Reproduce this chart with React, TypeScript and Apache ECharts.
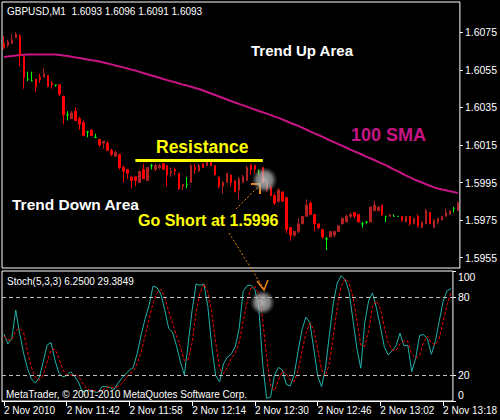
import React, { useEffect, useRef } from "react";
import * as echarts from "echarts";

// ---------- DATA ----------
const OPEN = [
  1.6069,1.6068,1.6069,1.6072,1.6073,1.6062,1.6050,1.6049,1.6050,1.6051,
  1.6051,1.6052,1.6048,1.6047,1.6047,1.6041,1.6031,1.6029,1.6033,1.6029,
  1.6027,1.6022,1.6023,1.6019,1.6018,1.6016,1.6016,1.6012,1.6009,1.6010,
  1.6003,1.6002,1.5998,1.5998,1.5995,1.6002,1.5996,1.6004,1.6002,1.6003,
  1.6005,1.6004,1.6000,1.6002,1.6000,1.5993,1.5994,1.5995,1.6003,1.6001,
  1.6005,1.6004,1.6006,1.6004,1.5998,1.5993,1.5995,1.5999,1.5996,1.5991,
  1.5995,1.5996,1.6004,1.6004,1.6001,1.6003,1.5991,1.5993,1.5988,1.5985,
  1.5990,1.5987,1.5971,1.5967,1.5969,1.5973,1.5977,1.5984,1.5978,1.5973,
  1.5970,1.5965,1.5966,1.5967,1.5969,1.5973,1.5974,1.5977,1.5979,1.5978,
  1.5973,1.5974,1.5974,1.5980,1.5980,1.5983,1.5977,1.5977,1.5977,1.5977,
  1.5977,1.5974,1.5977,1.5973,1.5977,1.5971,1.5973,1.5979,1.5971,1.5974,
  1.5975,1.5977,1.5978,1.5981,1.5980,
];
const HIGH = [
  1.6073,1.6071,1.6074,1.6075,1.6074,1.6062,1.6054,1.6054,1.6050,1.6053,
  1.6056,1.6052,1.6049,1.6047,1.6047,1.6041,1.6033,1.6033,1.6035,1.6030,
  1.6028,1.6022,1.6023,1.6021,1.6018,1.6017,1.6017,1.6013,1.6012,1.6010,
  1.6004,1.6002,1.5998,1.5998,1.6001,1.6005,1.6003,1.6005,1.6005,1.6005,
  1.6005,1.6004,1.6003,1.6003,1.6000,1.5994,1.5998,1.6005,1.6005,1.6005,
  1.6005,1.6007,1.6007,1.6004,1.5998,1.5996,1.6000,1.5999,1.5996,1.5998,
  1.5999,1.6004,1.6005,1.6004,1.6002,1.6003,1.5995,1.5993,1.5989,1.5992,
  1.5990,1.5987,1.5971,1.5969,1.5976,1.5977,1.5986,1.5985,1.5978,1.5973,
  1.5970,1.5966,1.5969,1.5969,1.5972,1.5976,1.5978,1.5979,1.5979,1.5978,
  1.5974,1.5974,1.5982,1.5985,1.5982,1.5983,1.5977,1.5978,1.5978,1.5977,
  1.5977,1.5977,1.5977,1.5976,1.5978,1.5974,1.5981,1.5979,1.5975,1.5976,
  1.5977,1.5981,1.5980,1.5982,1.5985,
];
const LOW = [
  1.6066,1.6067,1.6069,1.6072,1.6057,1.6045,1.6049,1.6049,1.6043,1.6048,
  1.6051,1.6046,1.6045,1.6046,1.6041,1.6026,1.6028,1.6029,1.6028,1.6023,
  1.6020,1.6019,1.6020,1.6019,1.6014,1.6013,1.6012,1.6009,1.6009,1.6002,
  1.5995,1.5997,1.5992,1.5993,1.5995,1.5997,1.5996,1.6002,1.6001,1.6002,
  1.6002,1.5993,1.5998,1.5999,1.5991,1.5991,1.5992,1.5995,1.6000,1.6001,
  1.6003,1.6004,1.6004,1.5999,1.5992,1.5989,1.5995,1.5993,1.5990,1.5986,
  1.5995,1.5996,1.5999,1.6000,1.5999,1.5995,1.5990,1.5988,1.5983,1.5984,
  1.5985,1.5968,1.5964,1.5966,1.5968,1.5973,1.5977,1.5978,1.5969,1.5970,
  1.5965,1.5959,1.5966,1.5966,1.5969,1.5973,1.5974,1.5976,1.5976,1.5974,
  1.5971,1.5973,1.5974,1.5980,1.5980,1.5977,1.5974,1.5977,1.5977,1.5977,
  1.5974,1.5974,1.5972,1.5973,1.5971,1.5971,1.5973,1.5973,1.5971,1.5973,
  1.5975,1.5977,1.5978,1.5979,1.5980,
];
const CLOSE = [
  1.6067,1.6070,1.6071,1.6074,1.6063,1.6051,1.6050,1.6049,1.6046,1.6050,
  1.6053,1.6046,1.6047,1.6047,1.6042,1.6031,1.6031,1.6032,1.6028,1.6026,
  1.6020,1.6022,1.6020,1.6019,1.6015,1.6017,1.6012,1.6010,1.6011,1.6003,
  1.6001,1.6000,1.5996,1.5996,1.6001,1.5997,1.6003,1.6004,1.6004,1.6004,
  1.6002,1.5999,1.6001,1.6001,1.5992,1.5994,1.5994,1.6004,1.6002,1.6004,
  1.6003,1.6006,1.6004,1.5999,1.5993,1.5995,1.6000,1.5995,1.5990,1.5997,
  1.5998,1.6003,1.6002,1.6002,1.6001,1.5995,1.5995,1.5988,1.5984,1.5991,
  1.5985,1.5970,1.5967,1.5969,1.5973,1.5977,1.5983,1.5978,1.5973,1.5971,
  1.5966,1.5965,1.5969,1.5969,1.5972,1.5976,1.5977,1.5978,1.5977,1.5974,
  1.5973,1.5974,1.5982,1.5983,1.5982,1.5978,1.5977,1.5978,1.5977,1.5977,
  1.5975,1.5977,1.5973,1.5976,1.5972,1.5974,1.5980,1.5973,1.5975,1.5976,
  1.5977,1.5979,1.5980,1.5981,1.5984,
];
const SMA100 = [
  1.60618,1.60621,1.60624,1.60626,1.60629,1.60630,1.60631,1.60631,1.60632,1.60632,
  1.60632,1.60632,1.60632,1.60632,1.60629,1.60626,1.60624,1.60620,1.60616,1.60613,
  1.60609,1.60605,1.60601,1.60598,1.60594,1.60589,1.60584,1.60579,1.60573,1.60568,
  1.60563,1.60557,1.60551,1.60546,1.60539,1.60533,1.60526,1.60520,1.60514,1.60508,
  1.60501,1.60495,1.60489,1.60484,1.60477,1.60471,1.60466,1.60460,1.60453,1.60448,
  1.60440,1.60432,1.60424,1.60416,1.60408,1.60400,1.60392,1.60384,1.60376,1.60369,
  1.60361,1.60354,1.60346,1.60339,1.60331,1.60324,1.60317,1.60309,1.60301,1.60294,
  1.60285,1.60276,1.60267,1.60259,1.60250,1.60241,1.60231,1.60221,1.60212,1.60203,
  1.60193,1.60183,1.60173,1.60164,1.60154,1.60145,1.60135,1.60125,1.60116,1.60107,
  1.60098,1.60088,1.60079,1.60070,1.60060,1.60051,1.60041,1.60030,1.60019,1.60009,
  1.59998,1.59987,1.59977,1.59967,1.59958,1.59950,1.59941,1.59933,1.59924,1.59918,
  1.59913,1.59909,1.59903,1.59899,1.59894,
];
const STOCH_MAIN = [
  51.6,44,48,70,52,36.7,24.9,17,13.8,18,
  29.8,43,45,31.6,21.3,18.7,19.5,22.6,19.2,14.4,
  7,8,8.4,7,6.6,11,11,10.5,8.6,13.3,
  17.4,20.7,23.8,25.9,36.7,50.9,63.3,73.3,88.2,87.4,
  82.2,70.1,56,52.8,42.5,30.2,20,44.5,70.1,90,
  89,90,72.7,41.9,19.5,14.8,28.7,33.9,36.2,41.9,
  56,84.3,88.7,89.2,85.6,71.5,27.7,2,3,20,
  25.9,23.9,12.8,11.5,20,38,54.7,64.5,60.6,40.6,
  19.5,11,25.2,50.9,75.4,90.8,96.4,93.3,84.3,62.5,
  40.6,25.2,59.9,77.1,83.1,71.5,57.3,41.9,35.4,38.6,
  42.5,52.2,42.5,42.8,22.5,32.9,50.4,51.1,47.8,35.9,
  45.7,61.2,76.6,84.8,86.4,
];
const STOCH_SIGNAL = [
  50,47,47,54,56,53,38,26,18,16,
  20,30,39,40,33,24,20,20,20,19,
  14,10,8,8,7,8,10,11,10,11,
  13,17,21,23,29,38,50,63,75,83,
  86,80,69,60,50,42,31,32,45,68,
  83,90,84,68,45,25,21,26,33,37,
  45,61,76,87,88,82,62,34,11,8,
  16,23,21,16,15,23,38,52,60,55,
  40,24,19,29,50,72,88,94,91,80,
  62,43,42,54,73,77,71,57,45,39,
  39,44,46,46,36,33,35,45,50,45,
  43,48,61,74,83,
];
const PRICE_TICKS = [1.5955, 1.5975, 1.5995, 1.6015, 1.6035, 1.6055, 1.6075];
const STOCH_TICKS = [0, 20, 80, 100];
const STOCH_LEVELS = [20, 80];
const TIME_LABELS = [
  "2 Nov 2010", "2 Nov 11:42", "2 Nov 11:58", "2 Nov 12:14",
  "2 Nov 12:30", "2 Nov 12:46", "2 Nov 13:02", "2 Nov 13:18",
];
const LABEL_EVERY = 16;
const START_MINUTE = 11 * 60 + 26;
const PRICE_MIN = 1.59495;
const PRICE_MAX = 1.60911;
const RESISTANCE_PRICE = 1.6007;
const RESISTANCE_FROM = 33;
const RESISTANCE_TO = 65;

const TIMES = OPEN.map((_, i) => {
  const m = START_MINUTE + i;
  const hh = Math.floor(m / 60);
  const mm = m % 60;
  return `${hh}:${mm < 10 ? "0" + mm : mm}`;
});
const CANDLES = OPEN.map((o, i) => [o, CLOSE[i], LOW[i], HIGH[i]]);

const FONT = '"Liberation Sans", Arial, sans-serif';

export default function App() {
  const ref = useRef<HTMLDivElement>(null);
  useEffect(() => {
    document.body.style.margin = "0";
    if (!ref.current) return;
    const chart = echarts.init(ref.current, null, { renderer: "svg" });
    const glow = () =>
      new echarts.graphic.RadialGradient(0.5, 0.5, 0.5, [
        { offset: 0, color: "rgba(205,205,205,0.85)" },
        { offset: 0.6, color: "rgba(175,175,175,0.7)" },
        { offset: 1, color: "rgba(120,120,120,0)" },
      ]);
    const orange = "#F08010";
    const txt = (text: string, x: number, y: number, size: number, color: string, bold = false) => ({
      type: "text",
      x,
      y,
      z: 100,
      style: {
        text,
        fill: color,
        fontSize: size,
        fontFamily: FONT,
        fontWeight: bold ? "bold" : "normal",
        align: "left",
        verticalAlign: "middle",
      },
    });
    chart.setOption({
      animation: false,
      backgroundColor: "#000000",
      grid: [
        { left: 2, top: 2, width: 459, height: 266, show: true, borderColor: "#ffffff", borderWidth: 1, backgroundColor: "transparent" },
        { left: 2, top: 271, width: 459, height: 130, show: true, borderColor: "#ffffff", borderWidth: 1, backgroundColor: "transparent" },
      ],
      xAxis: [
        { type: "category", gridIndex: 0, data: TIMES, show: false },
        {
          type: "category",
          gridIndex: 1,
          data: TIMES,
          axisLine: { show: true, lineStyle: { color: "#ffffff" } },
          axisTick: { show: true, interval: LABEL_EVERY - 1, alignWithLabel: true, length: 5, lineStyle: { color: "#ffffff" } },
          axisLabel: {
            interval: LABEL_EVERY - 1,
            align: "left",
            color: "#ffffff",
            fontSize: 10,
            fontFamily: FONT,
            margin: 4,
            formatter: (_v: string, idx: number) =>
              idx % LABEL_EVERY === 0 ? TIME_LABELS[idx / LABEL_EVERY] || "" : "",
          },
          splitLine: { show: false },
        },
      ],
      yAxis: [
        {
          type: "value",
          gridIndex: 0,
          position: "right",
          min: PRICE_MIN,
          max: PRICE_MAX,
          splitLine: { show: false },
          axisLine: { show: false },
          axisTick: { show: true, customValues: PRICE_TICKS, length: 3, lineStyle: { color: "#ffffff" } },
          axisLabel: {
            customValues: PRICE_TICKS,
            color: "#ffffff",
            fontSize: 10.5,
            fontFamily: FONT,
            margin: 5,
            formatter: (v: number) => v.toFixed(4),
          },
        },
        {
          type: "value",
          gridIndex: 1,
          position: "right",
          min: 0,
          max: 100,
          splitLine: { show: false },
          axisLine: { show: false },
          axisTick: { show: true, customValues: STOCH_TICKS, length: 3, lineStyle: { color: "#ffffff" } },
          axisLabel: {
            customValues: STOCH_TICKS,
            color: "#ffffff",
            fontSize: 10.5,
            fontFamily: FONT,
            margin: 5,
            formatter: (v: number) => (v === 100 ? "{t|100}" : v === 0 ? "{b|0}" : String(v)),
            rich: {
              t: { padding: [12, 0, 0, 0], color: "#ffffff", fontSize: 10.5, fontFamily: FONT },
              b: { padding: [0, 0, 12, 0], color: "#ffffff", fontSize: 10.5, fontFamily: FONT },
            },
          },
        },
      ],
      series: [
        {
          type: "line",
          name: "SMA100",
          xAxisIndex: 0,
          yAxisIndex: 0,
          data: SMA100,
          showSymbol: false,
          symbol: "none",
          lineStyle: { color: "#C71585", width: 2 },
          z: 1,
        },
        {
          type: "candlestick",
          xAxisIndex: 0,
          yAxisIndex: 0,
          data: CANDLES,
          barWidth: 2,
          itemStyle: {
            color: "#B22222",
            color0: "#FF0000",
            borderColor: "#B22222",
            borderColor0: "#FF0000",
            borderColorDoji: "#00FF00",
            borderWidth: 1,
          },
          z: 2,
          markLine: {
            silent: true,
            symbol: ["none", "none"],
            label: { show: false },
            lineStyle: { color: "#FFFF00", width: 3, type: "solid" },
            data: [
              [
                { coord: [TIMES[RESISTANCE_FROM], RESISTANCE_PRICE] },
                { coord: [TIMES[RESISTANCE_TO], RESISTANCE_PRICE] },
              ],
            ],
          },
        },
        {
          type: "line",
          name: "Main",
          xAxisIndex: 1,
          yAxisIndex: 1,
          data: STOCH_MAIN,
          showSymbol: false,
          symbol: "none",
          lineStyle: { color: "#20B2AA", width: 1 },
          markLine: {
            silent: true,
            symbol: ["none", "none"],
            label: { show: false },
            lineStyle: { color: "#C0C0C0", width: 1, type: [4, 3] },
            data: STOCH_LEVELS.map((v) => ({ yAxis: v })),
          },
        },
        {
          type: "line",
          name: "Signal",
          xAxisIndex: 1,
          yAxisIndex: 1,
          data: STOCH_SIGNAL,
          showSymbol: false,
          symbol: "none",
          lineStyle: { color: "#FF0000", width: 1, type: [3, 2] },
        },
      ],
      graphic: [
        txt("GBPUSD,M1  1.6093 1.6096 1.6091 1.6093", 7, 11, 10, "#ffffff"),
        txt("Stoch(5,3,3) 6.2500 29.3849", 7, 281, 10, "#ffffff"),
        txt("MetaTrader, \u00A9 2001-2010 MetaQuotes Software Corp.", 6, 394, 10, "#ffffff"),
        txt("Trend Up Area", 251, 50, 15, "#ffffff", true),
        txt("100 SMA", 351, 135, 18, "#C71585", true),
        txt("Resistance", 156, 147, 17.5, "#FFFF00", true),
        txt("Trend Down Area", 12, 204.5, 15.5, "#ffffff", true),
        txt("Go Short at 1.5996", 138, 220, 16, "#FFFF00", true),
        { type: "line", z: 100, shape: { x1: 236, y1: 209, x2: 259, y2: 186 }, style: { stroke: orange, lineWidth: 1, lineDash: [2, 2] } },
        { type: "polyline", z: 100, shape: { points: [[251, 184], [260, 184], [260, 194]] }, style: { stroke: orange, lineWidth: 2, fill: null } },
        { type: "line", z: 100, shape: { x1: 229, y1: 233, x2: 264, y2: 289 }, style: { stroke: orange, lineWidth: 1, lineDash: [2, 2] } },
        { type: "polyline", z: 100, shape: { points: [[257, 281], [264, 290], [268, 280]] }, style: { stroke: orange, lineWidth: 1.5, fill: null } },
        { type: "circle", z: 101, shape: { cx: 264.5, cy: 180, r: 13 }, style: { fill: glow() } },
        { type: "circle", z: 101, shape: { cx: 262.5, cy: 302.5, r: 12.5 }, style: { fill: glow() } },
      ],
    });
    return () => chart.dispose();
  }, []);
  return <div ref={ref} style={{ width: 500, height: 420, background: "#000" }} />;
}
